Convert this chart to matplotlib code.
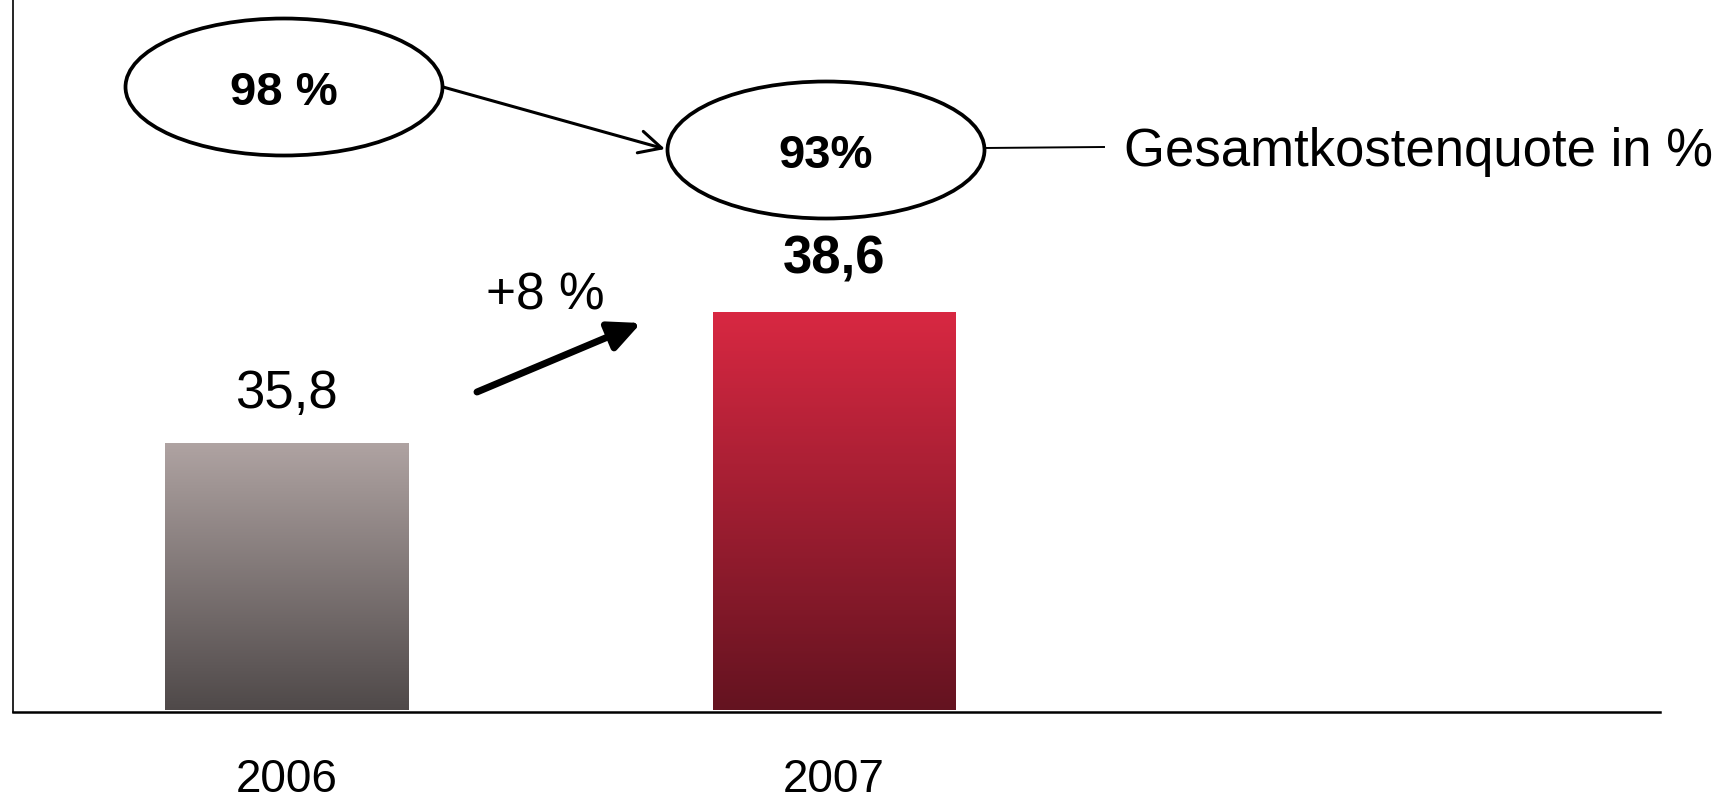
import numpy as np
import matplotlib
matplotlib.use('Agg')
import matplotlib.pyplot as plt
from matplotlib.patches import Ellipse
from matplotlib.colors import LinearSegmentedColormap

plt.rcParams['font.family'] = ['Liberation Sans', 'DejaVu Sans']

years = ['2006', '2007']
values = [35.8, 38.6]
value_labels = ['35,8', '38,6']
quote_labels = ['98 %', '93%']
growth_label = '+8 %'
quote_title = 'Gesamtkostenquote in %'

W, H = 1735, 801
# pixel -> data helpers (axes spans the whole picture height)
X0, XS = 286.5, 547.5
Y_LO, YS = 30.05, 46.79
def dx(px):
    return (px - X0) / XS
def dy(py):
    return Y_LO + (712 - py) / YS

fig = plt.figure(figsize=(W / 100, H / 100), dpi=100)
ax = fig.add_axes([13 / W, 1 - 712 / H, (1660 - 13) / W, 712 / H])
ax.set_xlim(dx(13), dx(1660))
ax.set_ylim(Y_LO, dy(0))

for s in ['top', 'right']:
    ax.spines[s].set_visible(False)
ax.spines['left'].set_linewidth(1.2)
ax.spines['bottom'].set_linewidth(1.8)
ax.set_yticks([])
ax.set_xticks([0, 1])
ax.set_xticklabels(years, fontsize=33)
ax.tick_params(axis='x', length=0, pad=33)

# gradient bars
grads = [('#afa3a2', '#4f4949'), ('#d82842', '#641320')]
base = 30.1
bars = ax.bar([0, 1], np.array(values) - base, bottom=base, width=243 / XS,
              color='none', edgecolor='none')
for b, (top, bot) in zip(bars, grads):
    cmap = LinearSegmentedColormap.from_list('g', [bot, top])
    x, y = b.get_x(), b.get_y()
    w, h = b.get_width(), b.get_height()
    grad = np.linspace(0, 1, 256).reshape(-1, 1)
    im = ax.imshow(grad, cmap=cmap, aspect='auto', origin='lower',
                   extent=[x, x + w, y, y + h], zorder=2)
    im.set_clip_path(b)

# value labels
ax.text(0, dy(408), value_labels[0], ha='center', va='baseline', fontsize=38)
ax.text(1, dy(273), value_labels[1], ha='center', va='baseline', fontsize=38,
        fontweight='bold')

# growth arrow
ax.annotate('', xy=(dx(641), dy(323)), xytext=(dx(477), dy(392)),
            arrowprops=dict(arrowstyle='-|>,head_length=0.95,head_width=0.45',
                            lw=5, color='black', mutation_scale=20,
                            shrinkA=0, shrinkB=0))
ax.text(dx(545), dy(309), growth_label, ha='center', va='baseline', fontsize=37)

# ellipses with cost ratio
for cx, cy, lab, by in [(284, 87, quote_labels[0], 105), (826, 150, quote_labels[1], 168)]:
    e = Ellipse((dx(cx), dy(cy)), 317 / XS, 137 / YS, facecolor='white',
                edgecolor='black', lw=2.7, zorder=3)
    ax.add_patch(e)
    ax.text(dx(cx), dy(by), lab, ha='center', va='baseline', fontsize=34,
            fontweight='bold', zorder=4)

ax.annotate('', xy=(dx(665), dy(149)), xytext=(dx(443), dy(87)),
            arrowprops=dict(arrowstyle='->,head_length=0.8,head_width=0.4',
                            lw=2.2, color='black', mutation_scale=20,
                            shrinkA=0, shrinkB=0), zorder=4)

ax.plot([dx(984), dx(1104)], [dy(148), dy(147)], color='black', lw=1.4)
ax.text(dx(1124), dy(166), quote_title, ha='left', va='baseline', fontsize=38)

fig.savefig('out.png', dpi=100)
